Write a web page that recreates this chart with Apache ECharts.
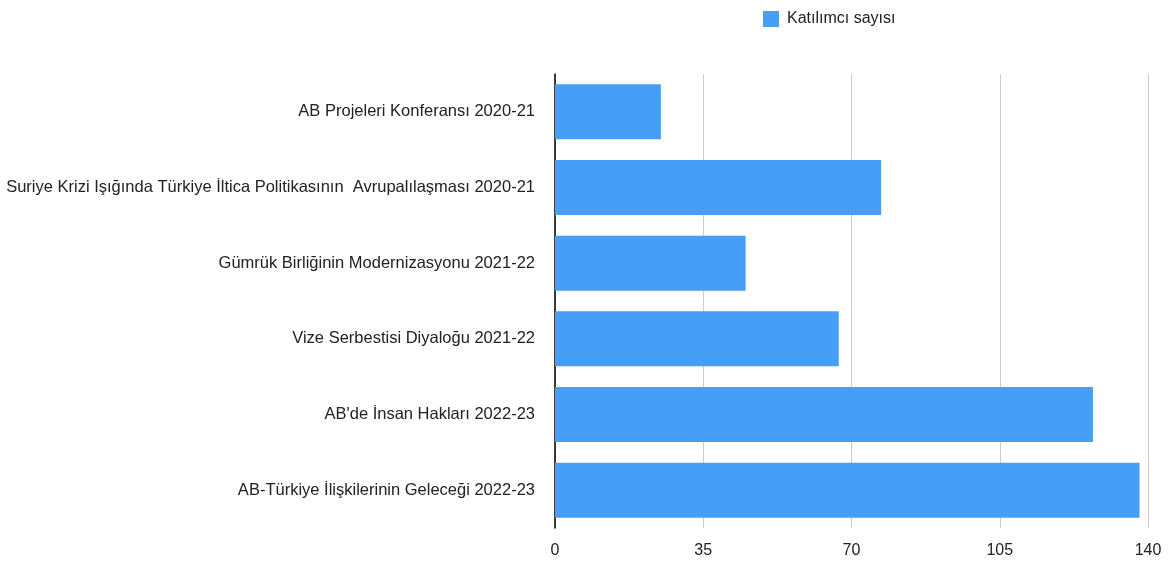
<!DOCTYPE html>
<html><head><meta charset="utf-8">
<script src="https://cdn.jsdelivr.net/npm/echarts@6/dist/echarts.min.js"></script>
<style>html,body{margin:0;padding:0;background:#fff}#c{width:1174px;height:563px}</style>
</head><body><div id="c"></div>
<script>
const categories = [
  "AB Projeleri Konferansı 2020-21",
  "Suriye Krizi Işığında Türkiye İltica Politikasının  Avrupalılaşması 2020-21",
  "Gümrük Birliğinin Modernizasyonu 2021-22",
  "Vize Serbestisi Diyaloğu 2021-22",
  "AB'de İnsan Hakları 2022-23",
  "AB-Türkiye İlişkilerinin Geleceği 2022-23"
];
const seriesName = "Katılımcı sayısı";
const values = [25, 77, 45, 67, 127, 138];
const FF = 'Liberation Sans, Arial, sans-serif';
const chart = echarts.init(document.getElementById('c'), null, {renderer: 'canvas'});
chart.setOption({
  animation: false,
  textStyle: {fontFamily: FF},
  legend: {
    left: 758, top: 6, itemWidth: 16, itemHeight: 16, itemGap: 10,
    icon: 'rect',
    textStyle: {fontSize: 16, color: '#222', fontFamily: FF, padding: [0, 0, 0, 3]},
    data: [seriesName]
  },
  grid: {left: 555, right: 26, top: 74, bottom: 35, containLabel: false},
  xAxis: {
    type: 'value', min: 0, max: 140, interval: 35,
    axisLine: {show: false}, axisTick: {show: false},
    splitLine: {lineStyle: {color: '#cccccc', width: 1}},
    axisLabel: {fontSize: 16, color: '#222', margin: 15, fontFamily: FF}
  },
  yAxis: {
    type: 'category', data: categories, inverse: true,
    axisLine: {lineStyle: {color: '#000', width: 1.5}},
    axisTick: {show: false},
    axisLabel: {fontSize: 16.5, color: '#222', margin: 20, fontFamily: FF}
  },
  series: [{
    name: seriesName, type: 'bar', data: values, barWidth: 55,
    itemStyle: {color: '#479ef7'}
  }]
});
</script></body></html>
